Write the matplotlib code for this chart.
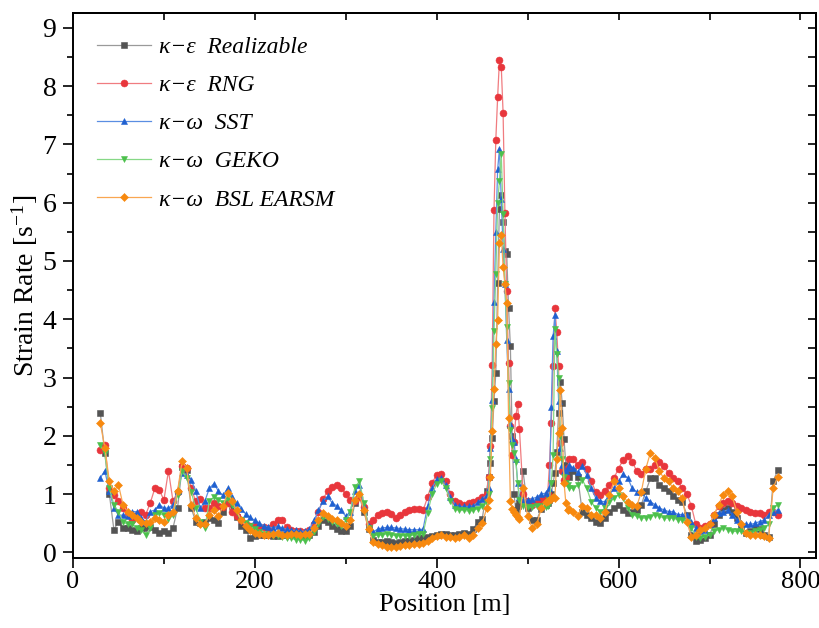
import matplotlib.pyplot as plt
import numpy as np

plt.rcParams['font.family'] = ['Liberation Serif', 'DejaVu Serif']
plt.rcParams['mathtext.fontset'] = 'stix'

# sample positions along the line [m] (finer spacing across the two peaks)
position = np.concatenate([np.arange(30, 456, 5), np.arange(457, 492, 2),
                           np.arange(495, 521, 5), np.arange(522, 547, 2),
                           np.arange(550, 776, 5)])

realizable = [
    2.40, 1.70, 1.00, 0.39, 0.53, 0.42, 0.42, 0.39, 0.36, 0.42,
    0.42, 0.44, 0.39, 0.33, 0.36, 0.33, 0.42, 0.76, 1.46, 1.41,
    0.76, 0.53, 0.50, 0.53, 0.59, 0.55, 0.50, 0.70, 0.92, 0.80,
    0.60, 0.45, 0.38, 0.24, 0.28, 0.30, 0.30, 0.30, 0.28, 0.28,
    0.30, 0.30, 0.32, 0.30, 0.28, 0.28, 0.30, 0.35, 0.45, 0.55,
    0.52, 0.45, 0.40, 0.36, 0.36, 0.45, 0.85, 0.95, 0.70, 0.40,
    0.22, 0.18, 0.18, 0.20, 0.18, 0.17, 0.18, 0.19, 0.20, 0.22,
    0.24, 0.25, 0.26, 0.28, 0.30, 0.32, 0.32, 0.30, 0.30, 0.32,
    0.33, 0.32, 0.40, 0.52, 0.58, 1.05,
    1.30, 1.53, 1.96, 2.60, 3.08, 4.63, 5.89, 6.13, 5.66, 5.17,
    5.12, 4.20, 3.54, 2.00, 1.00, 0.73, 0.80, 0.85,
    1.39, 0.76, 0.55, 0.56, 0.75, 0.82,
    0.85, 0.90, 1.00, 1.20, 1.36, 1.73, 2.40, 2.93, 2.56, 1.95,
    1.50, 1.40, 1.30,
    1.40, 1.30, 0.70, 0.65, 0.59, 0.53, 0.50, 0.59, 0.70, 0.76,
    0.82, 0.73, 0.68, 0.70, 0.73, 0.82, 1.05, 1.27, 1.27, 1.16,
    1.10, 1.05, 0.96, 0.90, 0.87, 0.65, 0.30, 0.19, 0.22, 0.25,
    0.30, 0.48, 0.65, 0.73, 0.76, 0.70, 0.59, 0.42, 0.33, 0.36,
    0.42, 0.40, 0.30, 0.27, 1.22, 1.41,
]

rng = [
    1.75, 1.85, 1.10, 0.99, 0.88, 0.76, 0.65, 0.56, 0.65, 0.70,
    0.65, 0.85, 1.10, 1.07, 0.90, 1.40, 0.88, 1.04, 1.48, 1.45,
    1.10, 0.88, 0.91, 0.76, 0.76, 0.85, 0.80, 0.78, 0.85, 0.70,
    0.62, 0.55, 0.48, 0.45, 0.45, 0.43, 0.44, 0.42, 0.48, 0.56,
    0.55, 0.44, 0.38, 0.36, 0.36, 0.35, 0.38, 0.48, 0.70, 0.92,
    1.05, 1.12, 1.15, 1.10, 1.00, 0.90, 0.88, 0.95, 0.78, 0.48,
    0.55, 0.65, 0.68, 0.70, 0.66, 0.59, 0.64, 0.70, 0.72, 0.75,
    0.74, 0.72, 0.95, 1.20, 1.33, 1.35, 1.22, 1.00, 0.88, 0.84,
    0.82, 0.84, 0.86, 0.90, 0.95, 1.00,
    1.30, 1.82, 3.22, 5.87, 7.08, 7.81, 8.45, 8.33, 7.54, 5.83,
    4.48, 3.25, 2.17, 1.67, 1.90, 2.34, 2.54, 2.11,
    1.00, 0.88, 0.82, 0.85, 0.90, 0.92,
    1.00, 1.50, 2.22, 3.20, 4.19, 3.79, 3.19, 1.87, 1.40, 1.25,
    1.30, 1.45, 1.60,
    1.60, 1.50, 1.55, 1.44, 1.22, 1.04, 0.99, 1.05, 1.16, 1.28,
    1.44, 1.59, 1.65, 1.56, 1.39, 1.34, 1.44, 1.44, 1.50, 1.56,
    1.48, 1.36, 1.28, 1.22, 1.10, 1.01, 0.80, 0.48, 0.42, 0.45,
    0.48, 0.65, 0.79, 0.85, 0.88, 0.85, 0.79, 0.76, 0.73, 0.70,
    0.67, 0.67, 0.65, 0.70, 0.70, 0.65,
]

sst = [
    1.28, 1.40, 1.05, 0.76, 0.64, 0.64, 0.62, 0.70, 0.70, 0.59,
    0.53, 0.70, 0.73, 0.82, 0.76, 0.76, 0.82, 1.05, 1.36, 1.33,
    1.25, 1.05, 0.76, 0.88, 1.10, 1.18, 1.05, 0.98, 1.10, 0.95,
    0.85, 0.75, 0.66, 0.60, 0.55, 0.50, 0.46, 0.44, 0.42, 0.45,
    0.42, 0.40, 0.38, 0.38, 0.37, 0.36, 0.40, 0.55, 0.72, 0.88,
    0.96, 0.85, 0.80, 0.72, 0.62, 0.70, 1.05, 1.15, 0.80, 0.45,
    0.35, 0.40, 0.42, 0.43, 0.43, 0.42, 0.41, 0.40, 0.39, 0.39,
    0.39, 0.40, 0.80, 1.10, 1.26, 1.28, 1.15, 0.95, 0.82, 0.79,
    0.79, 0.79, 0.80, 0.86, 0.92, 0.98,
    1.10, 1.80, 2.62, 4.30, 5.50, 6.57, 6.92, 6.06, 5.20, 4.60,
    3.65, 2.80, 2.20, 1.95, 1.90, 1.60, 1.20, 0.95,
    0.90, 0.90, 0.92, 0.95, 1.00, 1.02,
    0.95, 1.10, 2.50, 3.71, 4.07, 3.45, 2.60, 1.80, 1.50, 1.40,
    1.40, 1.45, 1.50,
    1.45, 1.38, 1.48, 1.33, 1.10, 0.93, 0.88, 0.87, 0.99, 1.10,
    1.22, 1.34, 1.28, 1.10, 1.04, 1.04, 0.93, 0.87, 0.82, 0.76,
    0.73, 0.70, 0.70, 0.65, 0.65, 0.65, 0.53, 0.42, 0.36, 0.39,
    0.48, 0.59, 0.68, 0.70, 0.73, 0.65, 0.56, 0.50, 0.48, 0.48,
    0.50, 0.53, 0.56, 0.65, 0.70, 0.73,
]

geko = [
    1.85, 1.70, 1.10, 0.82, 0.70, 0.53, 0.48, 0.48, 0.42, 0.39,
    0.30, 0.42, 0.64, 0.67, 0.64, 0.58, 0.64, 0.99, 1.39, 1.28,
    1.04, 0.76, 0.53, 0.42, 0.88, 0.95, 0.90, 0.85, 0.92, 0.82,
    0.70, 0.55, 0.50, 0.45, 0.40, 0.35, 0.32, 0.30, 0.28, 0.28,
    0.26, 0.25, 0.24, 0.22, 0.22, 0.20, 0.24, 0.35, 0.48, 0.60,
    0.58, 0.52, 0.48, 0.45, 0.55, 0.70, 1.12, 1.22, 0.85, 0.42,
    0.28, 0.30, 0.30, 0.32, 0.30, 0.29, 0.29, 0.29, 0.29, 0.30,
    0.31, 0.32, 0.68, 1.00, 1.18, 1.22, 1.10, 0.88, 0.74, 0.72,
    0.72, 0.71, 0.72, 0.75, 0.80, 0.85,
    1.00, 1.60, 2.48, 3.80, 4.77, 6.00, 6.37, 6.83, 5.80, 4.60,
    3.86, 2.91, 2.10, 1.85, 1.70, 1.56, 1.20, 0.90,
    0.80, 0.78, 0.78, 0.80, 0.80, 0.78,
    0.80, 0.90, 1.20, 1.67, 3.84, 3.40, 2.99, 2.00, 1.60, 1.30,
    1.20, 1.15, 1.10,
    1.10, 1.15, 1.25, 1.10, 0.87, 0.76, 0.70, 0.76, 0.87, 0.93,
    0.99, 0.93, 0.76, 0.65, 0.62, 0.59, 0.59, 0.60, 0.65, 0.62,
    0.59, 0.59, 0.59, 0.56, 0.56, 0.53, 0.42, 0.27, 0.24, 0.27,
    0.30, 0.36, 0.39, 0.42, 0.39, 0.36, 0.36, 0.36, 0.33, 0.33,
    0.36, 0.39, 0.42, 0.48, 0.76, 0.82,
]

bsl_earsm = [
    2.22, 1.80, 1.22, 1.05, 1.16, 0.82, 0.70, 0.64, 0.59, 0.53,
    0.50, 0.53, 0.59, 0.56, 0.53, 0.64, 0.70, 1.05, 1.57, 1.45,
    0.82, 0.59, 0.48, 0.48, 0.64, 0.72, 0.62, 0.80, 1.02, 0.88,
    0.72, 0.55, 0.46, 0.38, 0.34, 0.32, 0.30, 0.30, 0.31, 0.33,
    0.30, 0.30, 0.31, 0.32, 0.30, 0.31, 0.32, 0.42, 0.55, 0.68,
    0.62, 0.58, 0.55, 0.50, 0.45, 0.55, 0.90, 1.00, 0.72, 0.40,
    0.18, 0.14, 0.12, 0.10, 0.10, 0.10, 0.11, 0.12, 0.13, 0.14,
    0.15, 0.16, 0.20, 0.24, 0.28, 0.30, 0.27, 0.26, 0.25, 0.27,
    0.30, 0.25, 0.30, 0.42, 0.50, 0.76,
    0.90, 1.30, 2.08, 2.80, 3.57, 3.98, 5.30, 5.45, 4.90, 4.60,
    4.28, 2.31, 0.88, 0.75, 0.70, 0.65, 0.60, 0.58,
    1.10, 0.62, 0.42, 0.48, 0.76, 0.87,
    0.88, 0.90, 0.92, 0.95, 0.93, 1.60, 2.05, 2.79, 2.14, 1.20,
    0.85, 0.73, 0.75,
    0.70, 0.62, 0.80, 0.76, 0.65, 0.65, 0.59, 0.70, 0.99, 1.22,
    1.10, 0.96, 0.87, 0.82, 0.79, 1.04, 1.44, 1.71, 1.62, 1.39,
    1.27, 1.22, 1.10, 1.05, 0.93, 0.53, 0.27, 0.30, 0.39, 0.42,
    0.48, 0.65, 0.82, 0.99, 1.05, 0.96, 0.70, 0.48, 0.33, 0.30,
    0.30, 0.30, 0.28, 0.25, 1.10, 1.30,
]

labels = ['κ−ε  Realizable', 'κ−ε  RNG', 'κ−ω  SST', 'κ−ω  GEKO', 'κ−ω  BSL EARSM']

fig = plt.figure(figsize=(8.2, 6.28), dpi=100)
ax = fig.add_axes([0.089, 0.111, 0.906, 0.868])

# (values, marker, line colour, marker colour)
series = [
    (realizable, 's', '#9a9a9a', '#545454'),
    (rng, 'o', '#f07c80', '#e8363c'),
    (sst, '^', '#5a8ee2', '#1f60d0'),
    (geko, 'v', '#86d886', '#4cc04c'),
    (bsl_earsm, 'D', '#f9a751', '#f7890f'),
]
for (vals, mk, lc, mc), lab in zip(series, labels):
    ms = 4.2 if mk == 'D' else 5.0
    ax.plot(position, vals, marker=mk, ms=ms, lw=0.9, color=lc,
            mfc=mc, mec=mc, mew=0.4, label=lab)

ax.set_xlim(0, 817)
ax.set_ylim(-0.1, 9.25)
ax.set_xticks(np.arange(0, 801, 200))
ax.set_xticks(np.arange(100, 801, 200), minor=True)
ax.set_yticks(np.arange(0, 10, 1))
ax.set_yticks(np.arange(0.5, 9.1, 1), minor=True)
ax.tick_params(which='both', direction='out', labelsize=20, width=1.2, pad=5)
ax.tick_params(axis='x', which='both', labelsize=19, pad=2)
ax.tick_params(which='major', length=7)
ax.tick_params(which='minor', length=4.5)

# inward ticks along the top and right edges
top = ax.secondary_xaxis('top')
top.set_xticks(np.arange(0, 801, 100))
top.tick_params(direction='in', length=5, width=1.2, labeltop=False)
right = ax.secondary_yaxis('right')
right.set_yticks(np.arange(0, 9.1, 0.5))
right.tick_params(direction='in', length=6, width=1.2, labelright=False)

for sp in list(ax.spines.values()) + [top.spines['top'], right.spines['right']]:
    sp.set_linewidth(1.4)

ax.set_xlabel('Position [m]', fontsize=19, labelpad=1)
ax.set_ylabel(r'Strain Rate [s$^{\mathregular{-1}}$]', fontsize=20, labelpad=2)

ax.legend(loc='upper left', bbox_to_anchor=(0.0, 1.0), frameon=False,
          prop={'family': 'Liberation Serif', 'style': 'italic', 'size': 17},
          handlelength=2.3, handletextpad=0.35, labelspacing=0.7,
          borderaxespad=0.6)

fig.savefig('out.png', dpi=100)
